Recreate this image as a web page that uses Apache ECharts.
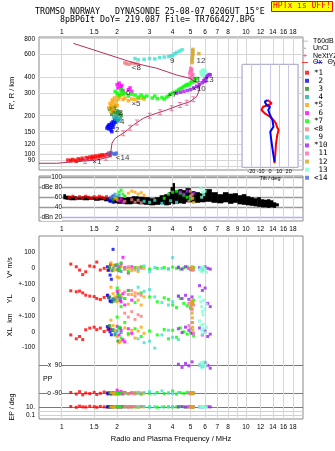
<!DOCTYPE html>
<html><head><meta charset="utf-8">
<script src="https://cdn.jsdelivr.net/npm/echarts@6/dist/echarts.min.js"></script>
<style>html,body{margin:0;padding:0;background:#fff}#c{width:335px;height:451px}</style>
</head><body><div id="c"></div>
<script>
// ---------- tick values ----------
const fTicks = [1,1.5,2,3,4,5,6,7,8,9,10,12,14,16,18];
const fLabelsTop = [1,1.5,2,3,4,5,6,7,8,10,12,14,16,18];
const fLabelsMid = [1,1.5,2,3,4,5,6,7,8,9,10,12,14,16,18];
const fLabelsBot = [1,1.5,2,3,4,5,6,7,8,10,12,14,16,18];
const hTicks = [80,90,100,120,150,200,300,400,600,800];
const dbTicks = [20,40,60,80,100];
const tiltTicks = [-20,-10,0,10,20];

// ---------- trace identity ----------
const traceNames = ['1','2','3','4','5','6','7','8','9','10','11','12','13','14'];
const traceTags = ['*1',' 2',' 3',' 4','*5',' 6','*7','<8',' 9','*10',' 11',' 12',' 13','<14'];
const traceColors = ['#ff0000','#0000ff','#228b22','#20a8a8','#ffa500','#ff00ff','#00ff00','#f08080','#40e0d0','#a020f0','#ff69b4','#daa520','#7fffd4','#4169e1'];

// ---------- echo traces: [MHz, km] ----------
const echo1 = [[1.08,90],[1.12,89],[1.14,91],[1.18,90],[1.2,88],[1.23,92],[1.26,90],[1.29,93],[1.32,91],[1.36,94],[1.38,92],[1.42,95],[1.45,93],[1.47,96],[1.5,94],[1.53,97],[1.57,95],[1.6,98],[1.63,96],[1.66,99],[1.7,97],[1.74,99],[1.78,100],[1.83,98]];
const echo2 = [[1.76,160],[1.78,165],[1.8,158],[1.82,170],[1.84,162],[1.86,175],[1.88,168],[1.9,180],[1.92,172],[1.94,185],[1.96,178],[1.98,183],[1.85,155],[1.8,168],[1.9,162],[1.87,150]];
const echo3 = [[1.82,225],[1.85,232],[1.88,220],[1.9,215],[1.93,228],[1.96,210],[2.0,218],[2.03,205],[2.06,212],[2.1,200],[1.87,205],[1.95,238]];
const echo4 = [[1.92,195],[1.96,188],[2.0,192],[2.04,185],[2.08,190],[1.98,198],[2.02,182]];
const echo5 = [[1.8,230],[1.83,250],[1.86,240],[1.88,265],[1.9,255],[1.93,275],[1.96,245],[1.98,262],[2.0,285],[2.03,270],[2.06,280],[2.1,290],[2.15,268],[2.2,275],[2.3,262],[2.4,270],[2.5,268],[2.6,272],[2.7,275],[2.8,270],[1.85,215],[1.9,225],[2.0,240]];
const echo6 = [[2.0,350],[2.02,330],[2.05,360],[2.08,340],[2.1,325],[2.12,345],[2.15,315],[2.3,320],[2.35,330],[2.4,310]];
const echo7 = [[2.0,300],[2.05,290],[2.1,305],[2.15,295],[2.2,300],[2.3,285],[2.4,295],[2.5,290],[2.6,280],[2.7,290],[2.8,280],[2.9,285],[3.1,275],[3.2,285],[3.3,272],[3.5,278],[3.6,270],[3.7,280],[3.8,285],[3.9,295],[4.0,300],[4.1,305],[4.2,310],[4.3,318],[4.4,325],[4.5,330],[4.6,338],[4.7,345],[4.8,352],[4.9,348],[5.0,362],[5.1,372],[5.2,368],[5.3,382],[5.4,392],[2.1,320],[1.95,310]];
const echo8 = [[2.25,510],[2.32,505],[2.4,515],[2.5,512],[2.6,505],[2.2,518]];
const echo9 = [[2.5,560],[2.6,548],[2.8,552],[3.0,560],[3.2,556],[3.4,570],[3.6,575],[3.8,580],[3.9,586],[4.0,592],[4.1,610],[4.2,625],[4.35,640],[4.5,655]];
const echo10 = [[4.2,300],[4.4,305],[4.6,310],[4.8,315],[5.0,320],[5.2,330],[5.4,340],[5.6,352],[5.8,362],[5.9,375],[6.0,390],[6.1,400],[6.2,410],[6.3,420],[6.4,418],[6.0,372],[5.5,336]];
const echo11 = [[4.95,430],[5.0,450],[5.02,470],[5.05,440],[5.1,410],[5.12,390],[5.08,460],[5.15,420],[4.98,400]];
const echo12 = [[5.1,520],[5.1,540],[5.12,560],[5.12,580],[5.14,600],[5.14,620],[5.15,640],[5.15,660],[5.55,612]];
const echo13 = [[5.7,440],[5.8,452],[5.9,432],[5.75,420],[5.85,410],[6.0,442],[5.95,456]];
const echo14 = [[1.8,102],[1.85,103],[1.9,101],[1.95,100],[1.98,102]];

// trace label anchors
const markF = [1.55,2.0,2.09,2.13,2.53,2.30,3.97,2.54,3.98,5.55,5.41,5.7,6.32,2.14];
const markH = [87.5,155,209,179,247,303,290,470,538,322,385,538,385,94];

// ---------- profile (NeXtYZ) ----------
const profF = [0.753,0.94,0.958,1.31,1.367,1.6,1.83,1.868,1.875,1.947,2.18,2.447,2.773,3.08,3.715,4.387,4.97,5.406,5.585,5.635,5.29,4.97,4.21,3.28,2.5,1.156];
const profH = [85,85,86.5,88.6,88.6,91,95.7,98,122,133,147.5,169,191,203,222,243,258,282,318,353,369,392,416,470,514,736];
const nxF = [1.34,1.74,2.16,2.35,2.56,3.0,3.42,3.95,4.39,4.77,5.18];
const nxH = [88.6,93.9,146,161,177,200,213,229,243,253,269];

// ---------- amplitude panel ----------
const ampF = [1.02,1.05,1.1,1.2,1.3,1.4,1.5,1.6,1.7,1.8,1.9,2.0,2.2,2.4,2.6,2.8,3.0,3.2,3.4,3.6,3.8,3.9,4.0,4.1,4.3,4.5,4.7,5.0,5.3,5.6,6.0,6.5,7.0,7.5,8.0,8.5,9.0,9.5,10,10.5,11,11.5,12,12.5,13,13.5,14,14.5];
const ampLo = [56,55,54,55,54,55,53,54,52,50,48,47,46,47,46,45,44,45,46,44,45,48,46,47,48,47,50,50,49,50,51,49,48,50,47,49,46,45,44,43,42,41,40,40,39,40,39,42];
const ampHi = [66,63,62,61,62,61,60,61,60,59,58,60,60,62,61,60,58,60,64,66,70,80,88,74,76,74,78,72,70,68,76,70,66,70,67,68,64,66,62,60,58,60,56,55,56,54,50,48];
const amp1 = [[1.1,60],[1.15,62],[1.2,58],[1.25,61],[1.3,59],[1.35,62],[1.4,60],[1.45,58],[1.5,61],[1.55,59],[1.6,62],[1.65,60],[1.7,58],[1.75,61],[1.8,57]];
const amp2 = [[1.8,55],[1.83,52],[1.86,57],[1.9,50]];
const amp3 = [[1.85,58],[1.9,55],[1.98,60]];
const amp4 = [[1.9,62],[1.95,66],[2.0,60],[2.05,64]];
const amp5 = [[1.95,58],[2.0,55],[2.2,62],[2.3,68],[2.4,72],[2.5,70],[2.6,66],[2.7,69],[2.8,64]];
const amp6 = [[2.05,53],[2.1,57],[2.15,50]];
const amp7 = [[2.05,70],[2.1,74],[2.15,66],[2.2,62],[3.6,58],[3.8,66],[4.0,70],[4.2,72],[4.4,68],[4.6,64],[4.8,60],[5.0,56]];
const amp8 = [[2.2,52],[2.4,55],[2.5,50],[2.6,54],[2.7,49],[4.9,52]];
const amp9 = [[2.8,52],[3.0,50],[3.2,54],[3.5,48],[3.9,53],[4.2,50]];
const amp10 = [[4.4,70],[4.6,66],[4.8,72],[5.0,62],[5.2,68]];
const amp11 = [[5.0,62],[5.1,58]];
const amp12 = [[5.0,72],[5.1,65],[5.15,58],[5.2,50]];
const amp13 = [[5.7,78],[5.8,70],[5.9,65],[6.0,72],[5.75,60]];
const amp14 = [[1.85,60],[1.9,63]];

// ---------- lower panel: freq, V*, YL, XL, PP, EP ----------
const low1F=[1.12,1.2,1.25,1.3,1.35,1.42,1.5,1.55,1.62,1.7,1.78,1.84];
const vs1=[27,10,-11,-40,-22,15,10,40,-11,0,-12,25];
const yl1=[58,52,56,45,31,25,22,10,4,17,30,-6];
const xl1=[-20,-45,-30,-50,13,24,30,14,24,2,13,18];
const pp1=[-85,-95,-80,-100,-88,-92,-84,-98,-90,-82,-95,-88];
const ep1=[12,8,15,10,9,14,11,8,13,10,9,12];
const low2F=[1.77,1.8,1.83,1.86,1.9], vs2=[10,-12,-43,-70,121], yl2=[30,15,-5,-10,5], xl2=[34,20,0,-19,10], pp2=[-88,-92,-85,-95,-90], ep2=[10,12,9,11,10];
const low3F=[1.82,1.88,1.95,2.02,2.08], vs3=[5,-15,20,-5,10], yl3=[20,-10,10,40,0], xl3=[40,10,-20,-60,25], pp3=[-90,-85,-95,-88,-92], ep3=[10,9,12,10,11];
const low4F=[1.9,1.95,2.0,2.05,2.1], vs4=[0,15,-10,5,-20], yl4=[10,-5,20,0,15], xl4=[15,-10,5,25,-5], pp4=[-90,-86,-94,-90,-88], ep4=[10,11,9,12,10];
const low5F=[1.85,1.9,1.95,2.0,2.05,2.1,2.2,2.3,2.4,2.5,2.6,2.7,2.8];
const vs5=[35,20,-10,-55,-60,10,-5,0,-15,5,-20,8,0];
const yl5=[80,40,20,-10,60,30,10,-25,35,45,0,-30,20];
const xl5=[75,40,10,-30,-70,-60,25,-20,10,-40,5,30,-10];
const pp5=[-85,-92,-88,-95,-82,-90,-86,-94,-89,-91,-84,-96,-90];
const ep5=[10,8,12,9,11,10,13,9,10,12,8,11,10];
const low6F=[2.0,2.05,2.1,2.15,2.2,2.3,2.4], vs6=[20,-15,30,70,5,-30,10], yl6=[55,20,-10,40,-30,60,0], xl6=[35,-20,10,-50,-65,20,-10], pp6=[-70,-90,-78,-95,-85,-92,-88], ep6=[10,11,9,12,10,10,11];
const low7F=[2.0,2.05,2.1,2.2,2.3,2.5,2.7,3.0,3.3,3.6,3.8,4.0,4.2,4.4,4.6,4.8,5.0,5.2];
const vs7=[25,-10,35,0,-20,5,10,-5,0,5,-3,8,0,-5,3,10,-8,5];
const yl7=[75,30,-40,10,60,-15,45,20,-10,15,5,-30,-45,10,-20,-35,-50,0];
const xl7=[95,30,-40,60,-10,20,-30,5,-20,15,-45,10,-35,25,0,-15,-5,-25];
const pp7=[-88,-95,-84,-90,-92,-86,-94,-90,-85,-92,-88,-75,-95,-86,-90,-84,-93,-88];
const ep7=[10,12,9,10,11,9,12,10,8,10,11,9,10,12,10,9,11,10];
const low8F=[2.2,2.3,2.4,2.5,2.6,2.7], vs8=[-5,10,0,-10,5,0], yl8=[50,35,60,25,40,30], xl8=[120,95,130,80,110,100], pp8=[-88,-92,-86,-94,-90,-88], ep8=[11,10,9,12,10,11];
const low9F=[2.6,2.8,3.0,3.2,3.5,3.8,4.0,4.3], vs9=[-10,15,-20,5,0,-5,68,10], yl9=[80,55,65,20,-15,-30,-10,25], xl9=[-45,-70,-60,-105,-20,10,-35,-50], pp9=[-90,-86,-80,-94,-75,-88,-92,-85], ep9=[10,12,9,11,10,9,12,10];
const low10F=[4.3,4.5,4.7,4.9,5.1,5.6,5.8,6.0,6.2,6.4], vs10=[5,-5,10,0,-10,5,-8,10,0,-5], yl10=[25,10,30,5,20,90,60,75,-20,-40], xl10=[20,-5,30,10,-10,25,-20,5,-30,-15], pp10=[95,75,100,85,110,90,80,105,88,70], ep10=[10,12,9,11,10,10,9,12,11,10];
const low11F=[4.9,5.0,5.1,5.2], vs11=[0,-5,5,-10], yl11=[-20,-40,-60,-30], xl11=[40,20,60,-10], pp11=[-90,-85,-92,-88], ep11=[10,11,9,10];
const low12F=[5.08,5.1,5.1,5.12,5.12,5.14,5.15], vs12=[0,5,-5,0,10,-3,0], yl12=[-10,-20,-30,-5,-15,-25,-12], xl12=[180,150,120,90,60,30,10], pp12=[-90,-88,-92,-90,-86,-94,-90], ep12=[10,10,11,9,10,12,10];
const low13F=[5.6,5.7,5.75,5.8,5.85,5.9,6.0,6.1], vs13=[-10,5,-20,0,-15,10,-5,-25], yl13=[20,-10,-40,-70,-90,0,-55,-25], xl13=[70,40,10,-15,50,20,-5,30], pp13=[90,105,75,95,85,110,80,95], ep13=[10,12,9,11,10,12,10,9];
const low14F=[], vs14=[], yl14=[], xl14=[], pp14=[], ep14=[];

// ---------- tilt inset ----------
const tiltXdeg = [4.8,5.6,6.3,7.8,9.2,7.4,6.3,3.7,0,-5.6,-9.2,-7.4,-1.9,1.9,0,-2.6];
const tiltXh = [3.9,12,21.7,31.4,36.2,39.4,42.7,45.9,49.1,52.4,55.6,58.8,60.5,62.1,63.7,65.3];
const tiltYdeg = [4.8,2.6,1.1,0.3,3.7,5.6,2.6,0,-1.9,0,-3.7,-5.6,-2.6];
const tiltYh = [5.4,18.4,28.2,34.6,39.4,41.1,45.9,50.8,55.6,58.8,60.5,63.7,65.3];

// ---------- build ----------
const echoes=[echo1,echo2,echo3,echo4,echo5,echo6,echo7,echo8,echo9,echo10,echo11,echo12,echo13,echo14];
const amps=[amp1,amp2,amp3,amp4,amp5,amp6,amp7,amp8,amp9,amp10,amp11,amp12,amp13,amp14];
const lows=[
 [low1F,vs1,yl1,xl1,pp1,ep1],[low2F,vs2,yl2,xl2,pp2,ep2],[low3F,vs3,yl3,xl3,pp3,ep3],[low4F,vs4,yl4,xl4,pp4,ep4],
 [low5F,vs5,yl5,xl5,pp5,ep5],[low6F,vs6,yl6,xl6,pp6,ep6],[low7F,vs7,yl7,xl7,pp7,ep7],[low8F,vs8,yl8,xl8,pp8,ep8],
 [low9F,vs9,yl9,xl9,pp9,ep9],[low10F,vs10,yl10,xl10,pp10,ep10],[low11F,vs11,yl11,xl11,pp11,ep11],[low12F,vs12,yl12,xl12,pp12,ep12],
 [low13F,vs13,yl13,xl13,pp13,ep13],[low14F,vs14,yl14,xl14,pp14,ep14]];
const tagMap = {}; traceNames.forEach((n,i)=>tagMap[n]=traceTags[i]);

const FMIN=0.753, FMAX=20.4;
const tickFont = {fontFamily:'Liberation Sans', fontSize:6.5, color:'#000'};
const gridLineColor = '#d6d6d6';

function logX(gi, extra){
  return Object.assign({type:'log', gridIndex:gi, min:FMIN, max:FMAX,
    axisLine:{show:false}, axisTick:{show:false, customValues:fTicks},
    axisLabel:{show:false}, splitLine:{show:true, lineStyle:{color:gridLineColor, width:1}}}, extra);
}

const series = [];
series.push({name:'amp', type:'custom', xAxisIndex:1, yAxisIndex:1, z:2,
  data: ampF.map((f,i)=>[f, ampLo[i], ampHi[i], ampF[i+1] || f*1.035]),
  encode:{x:[0,3], y:[1,2]},
  renderItem:(params, api)=>{
    const p0 = api.coord([api.value(0), api.value(2)]);
    const p1 = api.coord([api.value(3), api.value(1)]);
    return {type:'rect', shape:{x:p0[0], y:p0[1], width:p1[0]-p0[0]+0.4, height:p1[1]-p0[1]}, style:{fill:'#000'}};
  }});
series.push({name:'T60dB', type:'line', xAxisIndex:1, yAxisIndex:1, data:[], symbol:'none', lineStyle:{color:'#a0a0a0', width:1.5}, itemStyle:{color:'#a0a0a0'}});
series.push({name:'UnCl', type:'scatter', xAxisIndex:0, yAxisIndex:0, data:[], symbolSize:2, itemStyle:{color:'#000'}});
series.push({name:'NeXtYZ', type:'line', xAxisIndex:0, yAxisIndex:0, z:3, data:profF.map((f,i)=>[f,profH[i]]), symbol:'none', lineStyle:{color:'#b03060', width:1}, itemStyle:{color:'#e06090'}});
traceNames.forEach((n,k)=>{
  const c = traceColors[k];
  series.push({name:n, type:'scatter', xAxisIndex:0, yAxisIndex:0, z:2, data:echoes[k], symbol:'rect', symbolSize:3.5, itemStyle:{color:c}});
  series.push({name:n, type:'scatter', xAxisIndex:1, yAxisIndex:1, z:4, data:amps[k], symbol:'rect', symbolSize:3, itemStyle:{color:c}});
  const L = lows[k];
  for(let r=0;r<5;r++){
    series.push({name:n, type:'scatter', xAxisIndex:3+r, yAxisIndex:3+r, clip:false, z:3,
      data:L[0].map((f,i)=>[f, L[r+1][i]]), symbol:'rect', symbolSize:3, itemStyle:{color:c}});
  }
});
series.push({name:'NeXtYZ', type:'scatter', xAxisIndex:0, yAxisIndex:0, z:4, data:nxF.map((f,i)=>[f,nxH[i]]),
  symbol:'path://M0,0H4V1H2.5V5H4V6H0V5H1.5V1H0Z', symbolSize:[4,6], itemStyle:{color:'#e06090'}});
series.push({name:'marks', type:'scatter', xAxisIndex:0, yAxisIndex:0, z:6,
  data:markF.map((f,i)=>({value:[f,markH[i]], name:traceTags[i].trim().replace('*','\u00d7')})),
  symbolSize:1, itemStyle:{color:'rgba(0,0,0,0)'},
  label:{show:true, position:'inside', formatter:'{b}', fontFamily:'Liberation Sans', fontSize:8, color:'#000'}});
series.push({name:'\u0398x', type:'line', xAxisIndex:8, yAxisIndex:8, z:5, data:tiltXdeg.map((d,i)=>[d,tiltXh[i]]), symbol:'none', lineStyle:{color:'#ff0000', width:2}, itemStyle:{color:'#ff0000'}});
series.push({name:'\u0398y', type:'line', xAxisIndex:8, yAxisIndex:8, z:5, data:tiltYdeg.map((d,i)=>[d,tiltYh[i]]), symbol:'none', lineStyle:{color:'#0000ff', width:2}, itemStyle:{color:'#0000ff'}});

// legend icons in a 10x7 box (corner dots fix the box)
const BOX = 'M0,0h0.02v0.02h-0.02z M10,7h0.02v0.02h-0.02z ';
const iconLine = 'path://' + BOX + 'M0,3h10v1.3h-10z';
const iconDot = 'path://' + BOX + 'M4.2,2.8h1.6v1.6h-1.6z';
const iconCross = 'path://' + BOX + 'M4.3,0.8h1.4v5.4h-1.4z M1.5,2.9h7v1.3h-7z';

const monoTitle = {fontFamily:'DejaVu Sans Mono', fontSize:8.3, fontWeight:'normal', color:'#000', lineHeight:9};
const legText = {fontFamily:'Liberation Sans', fontSize:7, lineHeight:7, color:'#000'};
const option = {
  animation:false,
  title:[
    {text:'TROMSO NORWAY   DYNASONDE 25-08-07 0206UT 15\u00b0E', left:35, top:7.8, padding:0, textStyle:monoTitle},
    {text:'8pBP6It DoY= 219.087 File= TR766427.BPG', left:60, top:15.5, padding:0, textStyle:monoTitle},
    {text:'HPTx is OFF!', left:271.5, top:1, padding:[1,1.5], backgroundColor:'#ffff00', borderColor:'#ff0000', borderWidth:1,
      textStyle:{fontFamily:'DejaVu Sans Mono', fontSize:8, fontWeight:'normal', color:'#ff0000', lineHeight:8.7}}
  ],
  legend:[
    {data:[{name:'T60dB', icon:iconLine, itemStyle:{color:'#a8a8a8'}},{name:'UnCl', icon:iconDot},{name:'NeXtYZ', icon:iconCross}],
      orient:'vertical', left:302, top:37.5, itemWidth:6, itemHeight:7, itemGap:0.3, padding:0, selectedMode:false, textStyle:legText},
    {data:[{name:'\u0398x', icon:iconLine}], left:302, top:59, itemWidth:6, itemHeight:7, padding:0, selectedMode:false, textStyle:legText},
    {data:[{name:'\u0398y', icon:iconLine}], left:316.5, top:59, itemWidth:6, itemHeight:7, padding:0, selectedMode:false, textStyle:legText},
    {data:traceNames, orient:'vertical', left:305, top:68.7, itemWidth:4, itemHeight:4, itemGap:0.08, icon:'rect', padding:0, selectedMode:false,
      formatter:n=>tagMap[n], textStyle:{fontFamily:'DejaVu Sans Mono', fontSize:7.5, lineHeight:8, color:'#000'}}
  ],
  grid:[
    {left:39, top:37, width:264, height:133, show:true, borderColor:'#8a8a8a'},
    {left:39, top:176, width:264, height:45, show:true, borderColor:'#8a8a8a'},
    {left:39, top:236, width:264, height:183, show:true, borderColor:'#8a8a8a'},
    {left:39, top:251, width:264, height:33},
    {left:39, top:284, width:264, height:32.3},
    {left:39, top:316.3, width:264, height:35.7},
    {left:39, top:352, width:264, height:48},
    {left:39, top:400, width:264, height:19},
    {left:242, top:64.3, width:56, height:103, show:true, borderColor:'#a0a0c4', backgroundColor:'#ffffff', z:1}
  ],
  xAxis:[
    logX(0,{position:'top', axisLabel:Object.assign({show:true, customValues:fLabelsTop, margin:1.5}, tickFont)}),
    logX(1,{position:'bottom', axisLabel:Object.assign({show:true, customValues:fLabelsMid, margin:4.5}, tickFont)}),
    logX(2,{position:'bottom', axisLabel:Object.assign({show:true, customValues:fLabelsBot, margin:5}, tickFont),
      name:'Radio and Plasma Frequency / MHz', nameLocation:'middle', nameGap:16,
      nameTextStyle:{fontFamily:'Liberation Sans', fontSize:7.5, color:'#000'}}),
    {type:'log', gridIndex:3, min:FMIN, max:FMAX, show:false},
    {type:'log', gridIndex:4, min:FMIN, max:FMAX, show:false},
    {type:'log', gridIndex:5, min:FMIN, max:FMAX, show:false},
    {type:'log', gridIndex:6, min:FMIN, max:FMAX, show:false},
    {type:'log', gridIndex:7, min:FMIN, max:FMAX, show:false},
    {type:'value', gridIndex:8, min:-30, max:30, interval:10, z:2, axisLine:{show:false}, axisTick:{show:false},
      splitLine:{show:true, lineStyle:{color:'#c8c8e6'}},
      axisLabel:{customValues:tiltTicks, fontFamily:'Liberation Sans', fontSize:5.5, color:'#000', margin:1.5},
      name:'Tilt / deg', nameLocation:'middle', nameGap:8, nameTextStyle:{fontFamily:'Liberation Sans', fontSize:5.5, color:'#000'}}
  ],
  yAxis:[
    {type:'log', gridIndex:0, min:75.3, max:825, axisLine:{show:false}, axisTick:{show:false, customValues:hTicks},
      axisLabel:Object.assign({customValues:hTicks, margin:4}, tickFont), splitLine:{show:true, lineStyle:{color:gridLineColor}}},
    {type:'value', gridIndex:1, min:13, max:102, axisLine:{show:false}, axisTick:{show:false, customValues:dbTicks},
      axisLabel:Object.assign({customValues:dbTicks, margin:-23, align:'right', backgroundColor:'#fff',
        formatter:v=>v===80?'dBe 80':(v===20?'dBn 20':String(v))}, tickFont),
      splitLine:{show:true, lineStyle:{color:['#b0b0f0','#9a9a9a','#9a9a9a','#9a9a9a','#9a9a9a'], width:1.3}}},
    {type:'value', gridIndex:2, min:0, max:1, show:false},
    {type:'value', gridIndex:3, min:-100, max:110.5, axisLine:{show:false}, axisTick:{show:false, customValues:[0,100]},
      axisLabel:Object.assign({customValues:[0,100], margin:4}, tickFont), splitLine:{show:false}},
    {type:'value', gridIndex:4, min:-100, max:100, axisLine:{show:false}, axisTick:{show:false, customValues:[-100,0,100]},
      axisLabel:Object.assign({customValues:[-100,0,100], margin:4, formatter:v=>v===0?'0':'+-100'}, tickFont), splitLine:{show:false}},
    {type:'value', gridIndex:5, min:-130, max:100, axisLine:{show:false}, axisTick:{show:false, customValues:[-100,0]},
      axisLabel:Object.assign({customValues:[-100,0], margin:4}, tickFont), splitLine:{show:false}},
    {type:'value', gridIndex:6, min:-133, max:173, axisLine:{show:false}, axisTick:{show:false, customValues:[-90,90]},
      axisLabel:Object.assign({customValues:[-90,90], margin:-23, align:'right', backgroundColor:'#fff',
        formatter:v=>v>0?'x  90':'o -90'}, tickFont),
      splitLine:{show:true, lineStyle:{color:'#7a7a7a'}}},
    {type:'log', gridIndex:7, min:0.01, max:500, axisLine:{show:false}, axisTick:{show:false, customValues:[0.1,1,10]},
      axisLabel:Object.assign({customValues:[0.1,10], margin:4, formatter:v=>v>=5?'10.':'0.1'}, tickFont),
      splitLine:{show:true, lineStyle:{color:['#d0d0d0','#d0d0d0','#7a7a7a']}}},
    {type:'value', gridIndex:8, min:0, max:100, show:false}
  ],
  graphic:[
    {type:'text', x:12, y:93, rotation:Math.PI/2, style:{text:"R', R / km", font:'7.5px Liberation Sans', textAlign:'center', textVerticalAlign:'middle', align:'center', verticalAlign:'middle', fill:'#000'}},
    {type:'text', x:10, y:267.5, rotation:Math.PI/2, style:{text:'V* m/s', font:'7px Liberation Sans', textAlign:'center', textVerticalAlign:'middle', align:'center', verticalAlign:'middle', fill:'#000'}},
    {type:'text', x:10, y:299, rotation:Math.PI/2, style:{text:'YL', font:'7.5px Liberation Sans', textAlign:'center', textVerticalAlign:'middle', align:'center', verticalAlign:'middle', fill:'#000'}},
    {type:'text', x:10, y:318, rotation:Math.PI/2, style:{text:'km', font:'7px Liberation Sans', textAlign:'center', textVerticalAlign:'middle', align:'center', verticalAlign:'middle', fill:'#000'}},
    {type:'text', x:10, y:332, rotation:Math.PI/2, style:{text:'XL', font:'7.5px Liberation Sans', textAlign:'center', textVerticalAlign:'middle', align:'center', verticalAlign:'middle', fill:'#000'}},
    {type:'text', x:12, y:407, rotation:Math.PI/2, style:{text:'EP / deg', font:'7px Liberation Sans', textAlign:'center', textVerticalAlign:'middle', align:'center', verticalAlign:'middle', fill:'#000'}},
    {type:'text', x:43, y:379.3, style:{text:'PP', font:'7px Liberation Sans', textAlign:'left', textVerticalAlign:'middle', align:'left', verticalAlign:'middle', fill:'#000'}}
  ],
  series
};
const chart = echarts.init(document.getElementById('c'), null, {renderer:'canvas'});
chart.setOption(option);
</script></body></html>
